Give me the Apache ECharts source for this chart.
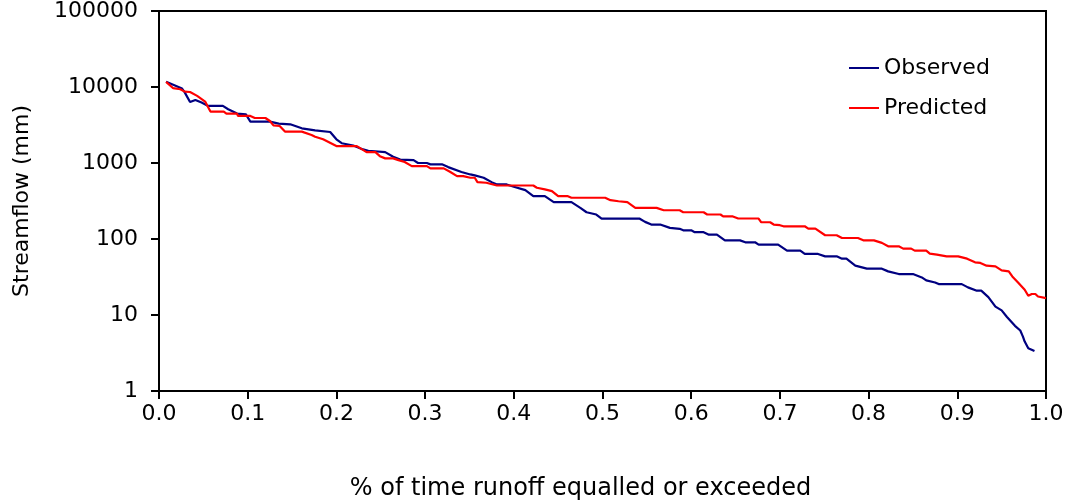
<!DOCTYPE html>
<html>
<head>
<meta charset="utf-8">
<script src="https://cdn.jsdelivr.net/npm/echarts@6/dist/echarts.min.js"></script>
<style>
html,body{margin:0;padding:0;background:#fff;}
#chart{width:1070px;height:502px;}
</style>
</head>
<body>
<div id="chart"></div>
<script>
var xTickLabels = ['0.0','0.1','0.2','0.3','0.4','0.5','0.6','0.7','0.8','0.9','1.0'];
var yTickLabels = ['1','10','100','1000','10000','100000'];
var seriesNames = ['Observed','Predicted'];

var obsX = [0.008,0.012,0.026,0.029,0.035,0.041,0.048,0.055,0.072,0.078,0.088,0.098,0.103,0.125,0.135,0.148,0.161,0.176,0.193,0.200,0.206,0.219,0.230,0.236,0.255,0.264,0.272,0.287,0.292,0.302,0.306,0.319,0.326,0.341,0.351,0.356,0.366,0.375,0.381,0.392,0.400,0.413,0.422,0.435,0.445,0.465,0.475,0.482,0.493,0.499,0.542,0.548,0.555,0.565,0.576,0.587,0.591,0.600,0.604,0.614,0.620,0.629,0.638,0.655,0.661,0.672,0.676,0.698,0.708,0.723,0.728,0.743,0.751,0.764,0.770,0.775,0.785,0.798,0.815,0.822,0.834,0.850,0.860,0.865,0.875,0.879,0.905,0.912,0.922,0.927,0.935,0.943,0.950,0.956,0.965,0.971,0.974,0.976,0.980,0.982,0.987];
var obsY = [11700,11200,9550,8500,6340,6760,6240,5640,5640,5100,4470,4370,3510,3510,3300,3230,2860,2690,2560,2050,1820,1700,1510,1450,1390,1210,1110,1090,1000,1000,960,960,883,760,707,686,640,560,522,522,487,439,366,366,305,305,257,225,210,185,185,168,155,155,140,136,130,130,123,123,114,114,96,96,90.5,90.5,84.4,84.4,70.3,70.3,63.6,63.6,59.1,59.1,55.1,55.1,44.6,40.7,40.7,37.5,34.6,34.6,31.2,28.5,26.8,25.5,25.5,23.1,20.9,20.9,17.2,12.9,11.5,9.4,7.2,6.25,5.2,4.47,3.66,3.45,3.37];

var predX = [0.008,0.016,0.024,0.029,0.035,0.043,0.052,0.058,0.073,0.076,0.088,0.089,0.103,0.108,0.120,0.125,0.129,0.136,0.142,0.161,0.172,0.176,0.185,0.200,0.223,0.229,0.234,0.244,0.249,0.255,0.264,0.270,0.277,0.285,0.302,0.306,0.321,0.328,0.336,0.343,0.351,0.356,0.359,0.369,0.381,0.422,0.426,0.435,0.443,0.450,0.461,0.465,0.503,0.509,0.518,0.528,0.537,0.561,0.569,0.587,0.591,0.614,0.618,0.633,0.636,0.647,0.653,0.676,0.679,0.689,0.693,0.700,0.704,0.728,0.732,0.740,0.751,0.764,0.770,0.788,0.794,0.806,0.815,0.822,0.834,0.839,0.848,0.852,0.865,0.869,0.877,0.888,0.901,0.911,0.920,0.926,0.933,0.943,0.950,0.958,0.962,0.969,0.976,0.980,0.984,0.988,0.991,1.000];
var predY = [11700,9640,9350,8700,8600,7640,6440,4750,4750,4470,4470,4160,4160,3910,3910,3570,3130,3070,2590,2590,2340,2220,2050,1670,1670,1510,1390,1390,1230,1150,1150,1090,1030,910,910,849,849,768,672,672,640,640,560,550,506,506,472,449,427,366,366,349,349,324,314,305,257,257,239,239,225,225,210,210,198,198,186,186,166,166,155,152,147,147,137,137,112,112,103,103,96,96,88.9,80.1,80.1,74.7,74.7,70.3,70.3,64.2,62.3,59.1,59.1,55.1,49.3,48.4,44.6,43.7,38.6,37.5,32.2,26.4,21.5,17.9,18.9,18.9,17.5,16.7];

function pairs(xs, ys){ var out=[]; for(var i=0;i<xs.length;i++){ out.push([xs[i], ys[i]]); } return out; }

var FONT = 'DejaVu Sans, sans-serif';
var chart = echarts.init(document.getElementById('chart'), null, {renderer:'canvas'});
chart.setOption({
  animation:false,
  backgroundColor:'#ffffff',
  grid:{left:159,right:24,top:11,bottom:111,show:true,borderColor:'#000',borderWidth:2,
        backgroundColor:'transparent',containLabel:false,outerBoundsMode:'none'},
  legend:{
    orient:'vertical', left:844, top:52, itemWidth:30, itemHeight:2, itemGap:18,
    icon:'rect',
    textStyle:{fontFamily:FONT,fontSize:22,color:'#000'},
    data:seriesNames
  },
  xAxis:{
    type:'value', min:0, max:1, interval:0.1,
    name:'% of time runoff equalled or exceeded', nameLocation:'middle', nameGap:86,
    nameTextStyle:{fontFamily:FONT,fontSize:24,color:'#000',padding:[0,44,0,0]},
    axisLine:{show:true,onZero:false,lineStyle:{color:'#000',width:2}},
    axisTick:{show:true,length:8,inside:false,lineStyle:{color:'#000',width:2}},
    axisLabel:{fontFamily:FONT,fontSize:22,color:'#000',margin:12,
      formatter:function(v){ var i=Math.round(v*10); return xTickLabels[i]; }},
    splitLine:{show:false}
  },
  yAxis:{
    type:'log', logBase:10, min:1, max:100000,
    name:'Streamflow (mm)', nameLocation:'middle', nameGap:126,
    nameTextStyle:{fontFamily:FONT,fontSize:22,color:'#000'},
    axisLine:{show:true,lineStyle:{color:'#000',width:2}},
    axisTick:{show:true,length:8,inside:false,lineStyle:{color:'#000',width:2}},
    axisLabel:{fontFamily:FONT,fontSize:22,color:'#000',margin:21,
      formatter:function(v){ var i=Math.round(Math.log10(v)); return yTickLabels[i]; }},
    splitLine:{show:false},
    minorTick:{show:false}
  },
  series:[
    {name:seriesNames[0], type:'line', data:pairs(obsX,obsY), symbol:'none', showSymbol:false,
     lineStyle:{color:'#000080',width:2.2}, itemStyle:{color:'#000080'}},
    {name:seriesNames[1], type:'line', data:pairs(predX,predY), symbol:'none', showSymbol:false,
     lineStyle:{color:'#ff0000',width:2.2}, itemStyle:{color:'#ff0000'}}
  ]
});
</script>
</body>
</html>
